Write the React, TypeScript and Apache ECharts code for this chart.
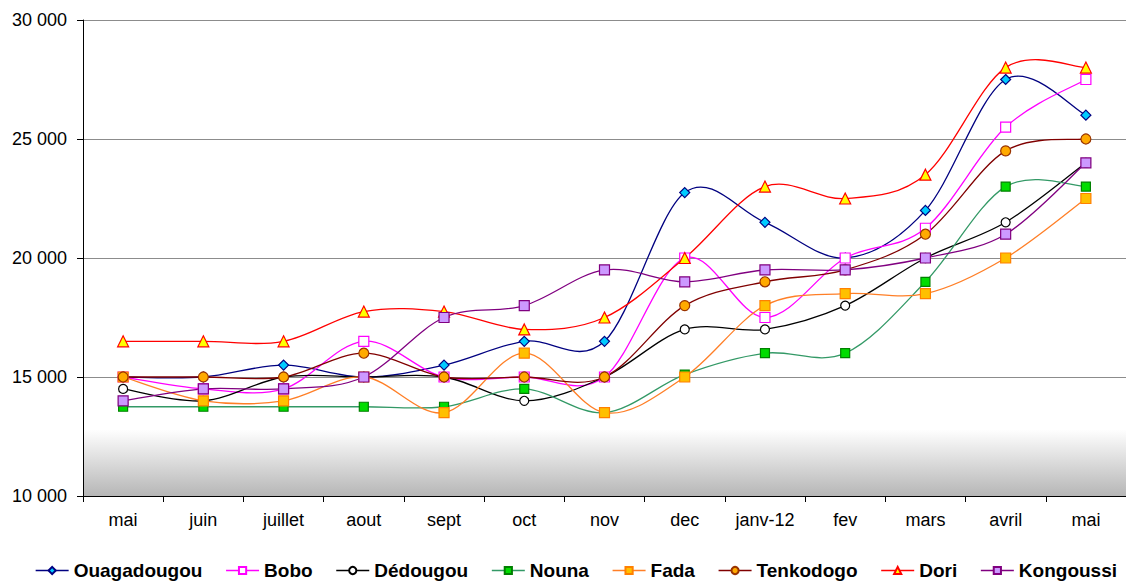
import React, { useEffect, useRef } from "react";
import * as echarts from "echarts";

// Monthly prices by market, May to May
const months = ["mai", "juin", "juillet", "aout", "sept", "oct", "nov", "dec", "janv-12", "fev", "mars", "avril", "mai"];

const ouagadougou = [15000, 15000, 15500, 15000, 15500, 16500, 16500, 22750, 21500, 20000, 22000, 27500, 26000];
const bobo = [15000, 14500, 14500, 16500, 15000, 15000, 15000, 20000, 17500, 20000, 21250, 25500, 27500];
const dedougou = [14500, 14000, 15000, 15000, 15000, 14000, 15000, 17000, 17000, 18000, 20000, 21500, 24000];
const nouna = [13750, 13750, 13750, 13750, 13750, 14500, 13500, 15100, 16000, 16000, 19000, 23000, 23000];
const fada = [15000, 14000, 14000, 15000, 13500, 16000, 13500, 15000, 18000, 18500, 18500, 20000, 22500];
const tenkodogo = [15000, 15000, 15000, 16000, 15000, 15000, 15000, 18000, 19000, 19500, 21000, 24500, 25000];
const dori = [16500, 16500, 16500, 17750, 17750, 17000, 17500, 20000, 23000, 22500, 23500, 28000, 28000];
const kongoussi = [14000, 14500, 14500, 15000, 17500, 18000, 19500, 19000, 19500, 19500, 20000, 21000, 24000];

const yTicks = [10000, 15000, 20000, 25000, 30000];

const FONT = "Arial, 'Liberation Sans', sans-serif";
const LINE_WIDTH = 1.3;

type SeriesDef = {
  name: string;
  data: number[];
  line: string;
  symbol: string;
  fill: string;
  border: string;
  size: number;
};

const seriesDefs: SeriesDef[] = [
  { name: "Ouagadougou", data: ouagadougou, line: "#000080", symbol: "diamond", fill: "#00ccff", border: "#000080", size: 10 },
  { name: "Bobo", data: bobo, line: "#ff00ff", symbol: "rect", fill: "#ffffff", border: "#ff00ff", size: 10 },
  { name: "Dédougou", data: dedougou, line: "#000000", symbol: "circle", fill: "#ffffff", border: "#000000", size: 9 },
  { name: "Nouna", data: nouna, line: "#339966", symbol: "rect", fill: "#00dd00", border: "#008000", size: 9 },
  { name: "Fada", data: fada, line: "#ff7f27", symbol: "rect", fill: "#ffc000", border: "#ff8000", size: 10 },
  { name: "Tenkodogo", data: tenkodogo, line: "#800000", symbol: "circle", fill: "#ffaa00", border: "#993300", size: 10 },
  { name: "Dori", data: dori, line: "#ff0000", symbol: "triangle", fill: "#ffff00", border: "#ff0000", size: 11 },
  { name: "Kongoussi", data: kongoussi, line: "#800080", symbol: "rect", fill: "#cc99ff", border: "#800080", size: 10 },
];

const fmt = (v: number) => String(Math.round(v)).replace(/\B(?=(\d{3})+(?!\d))/g, " ");

// Cardinal (Catmull-Rom) spline through the given pixel points, as SVG path data
function splinePath(pts: number[][]): string {
  const n = pts.length;
  if (n === 0) return "";
  let d = `M${pts[0][0]},${pts[0][1]}`;
  for (let i = 0; i < n - 1; i++) {
    const p0 = pts[Math.max(i - 1, 0)];
    const p1 = pts[i];
    const p2 = pts[i + 1];
    const p3 = pts[Math.min(i + 2, n - 1)];
    const c1x = p1[0] + (p2[0] - p0[0]) / 6;
    const c1y = p1[1] + (p2[1] - p0[1]) / 6;
    const c2x = p2[0] - (p3[0] - p1[0]) / 6;
    const c2y = p2[1] - (p3[1] - p1[1]) / 6;
    d += ` C${c1x},${c1y} ${c2x},${c2y} ${p2[0]},${p2[1]}`;
  }
  return d;
}

export default function App() {
  const ref = useRef<HTMLDivElement>(null);

  useEffect(() => {
    if (!ref.current) return;
    const chart = echarts.init(ref.current, undefined, { renderer: "svg" });

    // smooth curves, drawn once per city from its values through the axes
    const curveSeries = seriesDefs.map((s) => ({
      id: `curve-${s.name}`,
      type: "custom",
      coordinateSystem: "cartesian2d",
      silent: true,
      z: 2,
      data: s.data.map((v, i) => [i, v]),
      encode: { x: 0, y: 1 },
      renderItem: (params: any, api: any) => {
        if (params.dataIndex !== 0) return null;
        const pts = s.data.map((v, i) => api.coord([i, v]));
        return {
          type: "path",
          shape: { pathData: splinePath(pts) },
          style: { fill: "none", stroke: s.line, lineWidth: LINE_WIDTH },
        };
      },
    }));

    // markers, also providing the legend entries
    const markerSeries = seriesDefs.map((s) => ({
      name: s.name,
      type: "line",
      data: s.data,
      z: 3,
      symbol: s.symbol,
      symbolSize: s.size,
      showSymbol: true,
      lineStyle: { color: s.line, width: LINE_WIDTH, opacity: 0 },
      itemStyle: { color: s.fill, borderColor: s.border, borderWidth: 1.2 },
      emphasis: { disabled: true },
    }));

    chart.setOption({
      animation: false,
      backgroundColor: "#ffffff",
      grid: {
        left: 83,
        right: 0,
        top: 20,
        bottom: 85,
        show: true,
        borderWidth: 0,
        backgroundColor: new echarts.graphic.LinearGradient(0, 0, 0, 1, [
          { offset: 0, color: "#ffffff" },
          { offset: 0.86, color: "#ffffff" },
          { offset: 1, color: "#b6b6b6" },
        ]),
      },
      legend: {
        data: seriesDefs.map((s) => ({
          name: s.name,
          lineStyle: { color: s.line, width: LINE_WIDTH, opacity: 1 },
        })),
        top: 561,
        left: 35,
        width: 1091,
        padding: 0,
        itemWidth: 33,
        itemHeight: 9,
        itemGap: 23,
        textStyle: { fontFamily: FONT, fontSize: 19, fontWeight: "bold", color: "#000000" },
      },
      xAxis: {
        type: "category",
        data: months,
        boundaryGap: true,
        axisLine: { show: true, lineStyle: { color: "#000000", width: 1 } },
        axisTick: { show: true, alignWithLabel: false, length: 6, lineStyle: { color: "#000000" } },
        axisLabel: { fontFamily: FONT, fontSize: 18, color: "#000000", margin: 15, interval: 0 },
        splitLine: { show: false },
      },
      yAxis: {
        type: "value",
        min: yTicks[0],
        max: yTicks[yTicks.length - 1],
        interval: 5000,
        axisLine: { show: true, lineStyle: { color: "#000000", width: 1 } },
        axisTick: { show: true, length: 6, lineStyle: { color: "#000000" } },
        axisLabel: { fontFamily: FONT, fontSize: 18, color: "#000000", margin: 16, formatter: (v: number) => fmt(v) },
        splitLine: { show: true, lineStyle: { color: "#8c8c8c", width: 1 } },
      },
      series: [...curveSeries, ...markerSeries],
    });
    return () => chart.dispose();
  }, []);

  return <div ref={ref} style={{ position: "fixed", left: 0, top: 0, width: 1126, height: 581 }} />;
}
